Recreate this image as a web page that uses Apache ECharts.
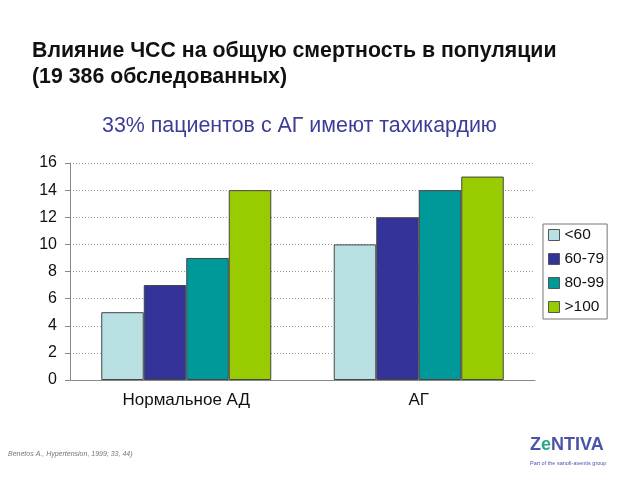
<!DOCTYPE html>
<html><head><meta charset="utf-8">
<script src="https://cdn.jsdelivr.net/npm/echarts@6/dist/echarts.min.js"></script>
<style>html,body{margin:0;padding:0;background:#fff}#c{width:640px;height:480px}</style>
</head><body><div id="c"></div>
<script>
const categories = ['Нормальное АД', 'АГ'];
const seriesNames = ['<60', '60-79', '80-99', '>100'];
const v_lt60 = [5, 10];
const v_60_79 = [7, 12];
const v_80_99 = [9, 14];
const v_gt100 = [14, 15];
const yTicks = [0, 2, 4, 6, 8, 10, 12, 14, 16];
const colors = ['#b9e0e3', '#333399', '#009999', '#99cc00'];
const values = [v_lt60, v_60_79, v_80_99, v_gt100];

const F = 'Liberation Sans, Arial, sans-serif';
const chart = echarts.init(document.getElementById('c'), null, {renderer: 'canvas'});
chart.setOption({
  animation: false,
  backgroundColor: '#fff',
  grid: {left: 70, right: 105, top: 163, bottom: 100},
  legend: {
    orient: 'vertical', left: 543, top: 224, itemWidth: 11, itemHeight: 11, itemGap: 8,
    padding: [3, 3, 4, 5], borderColor: '#777', borderWidth: 1,
    icon: 'rect',
    textStyle: {fontFamily: F, fontSize: 15.5, color: '#111', lineHeight: 16},
    data: seriesNames.map(n => ({name: n, itemStyle: {borderColor: '#555', borderWidth: 1}}))
  },
  xAxis: {
    type: 'category', data: categories,
    axisLine: {lineStyle: {color: '#888'}},
    axisTick: {length: 5, lineStyle: {color: '#888'}},
    axisLabel: {fontFamily: F, fontSize: 17, color: '#111', margin: 12}
  },
  yAxis: {
    type: 'value', min: 0, max: 16, interval: 2,
    axisLine: {show: true, lineStyle: {color: '#888'}},
    axisTick: {show: true, length: 5, lineStyle: {color: '#888'}},
    axisLabel: {fontFamily: F, fontSize: 16, color: '#111', margin: 13,
      formatter: v => yTicks.includes(v) ? String(v) : ''},
    splitLine: {show: true, lineStyle: {color: '#999', type: [1, 2], width: 1}}
  },
  series: seriesNames.map((n, i) => ({
    name: n, type: 'bar', data: values[i], barWidth: 42.5, barGap: '0%',
    itemStyle: {color: colors[i], borderColor: '#444', borderWidth: 1}
  })),
  graphic: [
    {type: 'text', left: 32, top: 38, style: {text: 'Влияние ЧСС на общую смертность в популяции\n(19 386 обследованных)',
      font: 'bold 21.3px ' + F, fill: '#111', lineHeight: 26}},
    {type: 'text', left: 102, top: 116, style: {text: '33% пациентов с АГ имеют тахикардию',
      font: '21.4px ' + F, fill: '#3c3c99'}},
    {type: 'text', left: 8, top: 451, style: {text: 'Benetos A., Hypertension, 1999; 33, 44)',
      font: 'italic 7px ' + F, fill: '#777'}},
    {type: 'text', left: 530, top: 436, style: {rich: {z: {fill: '#4a55a8', font: 'bold 18px ' + F}, e: {fill: '#2aa88a', font: 'bold 18px ' + F}},
      text: '{z|Z}{e|e}{z|NTIVA}'}},
    {type: 'text', left: 530, top: 460, style: {text: 'Part of the sanofi-aventis group',
      font: '5.5px ' + F, fill: '#4a55a8'}}
  ]
});
</script></body></html>
